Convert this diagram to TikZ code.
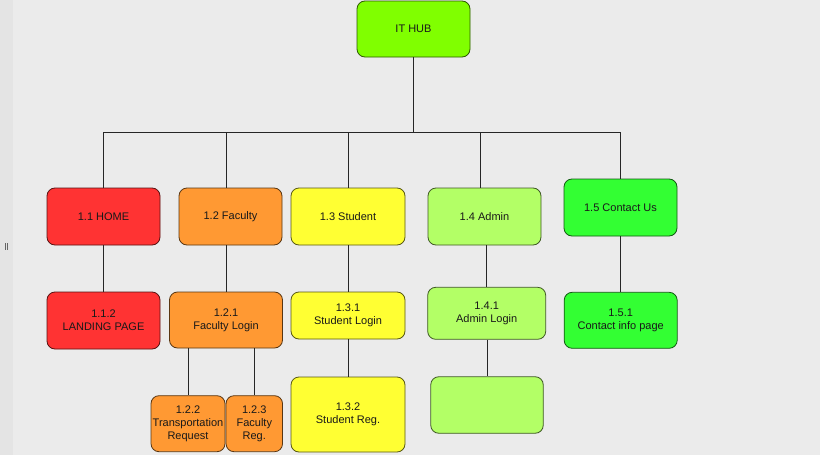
\documentclass[tikz,border=0pt]{standalone}
\usepackage{fontspec}
\setmainfont{Liberation Sans}
\definecolor{bgc}{HTML}{EBEBEB}
\definecolor{stripc}{HTML}{E4E4E4}
\definecolor{hubc}{HTML}{80FF00}
\definecolor{homec}{HTML}{FF3333}
\definecolor{facc}{HTML}{FF9933}
\definecolor{studc}{HTML}{FFFF33}
\definecolor{admc}{HTML}{B3FF66}
\definecolor{contc}{HTML}{33FF33}

\begin{document}
\begin{tikzpicture}[x=1pt,y=-1pt,
    page/.style={draw=#1!35!black,fill=#1,rounded corners=8pt,line width=0.8pt,
                 inner sep=0pt,align=center,text=black!90,
                 font=\fontsize{11}{13}\selectfont},
    link/.style={line width=0.8pt,draw=black!85}]
    \useasboundingbox (0,0) rectangle (820,455);
    \fill [bgc] (0,0) rectangle (820,455);
    \fill [stripc] (0,0) rectangle (13,455);
    \draw [black!60,line width=0.5pt] (5,243) -- (5,250) (7.5,243) -- (7.5,250);

    % top level
    \node [page=hubc,minimum width=113,minimum height=56] (hub) at (413.5,29){IT HUB};
    \coordinate (bus) at (413,132);

    % second row
    \node [page=homec,minimum width=113,minimum height=57] (home) at (103.5,216.5){1.1 HOME};
    \node [page=facc,minimum width=103,minimum height=57] (fac) at (230.5,216.5){1.2 Faculty};
    \node [page=studc,minimum width=114,minimum height=57] (stud) at (348,216.5){1.3 Student};
    \node [page=admc,minimum width=113,minimum height=57] (adm) at (484.5,216.5){1.4 Admin};
    \node [page=contc,minimum width=113,minimum height=57] (cont) at (620.5,207.5){1.5 Contact Us};

    % third row
    \node [page=homec,minimum width=113,minimum height=57] (land) at (103.5,320.5){1.1.2\\LANDING PAGE};
    \node [page=facc,minimum width=113,minimum height=56] (faclog) at (226,320){1.2.1\\Faculty Login};
    \node [page=studc,minimum width=114,minimum height=47] (studlog) at (348,315.5){1.3.1\\Student Login};
    \node [page=admc,minimum width=118,minimum height=52] (admlog) at (486.7,313.3){1.4.1\\Admin Login};
    \node [page=contc,minimum width=113,minimum height=56] (contlog) at (620.7,320.3){1.5.1\\Contact info page};

    % fourth row
    \node [page=facc,minimum width=74,minimum height=56] (transp) at (188,423.7){1.2.2\\Transportation\\Request};
    \node [page=facc,minimum width=56.5,minimum height=56] (facreg) at (254.3,423.7){1.2.3\\Faculty\\Reg.};
    \node [page=studc,minimum width=114,minimum height=75] (studreg) at (348,414.5){1.3.2\\Student Reg.};
    \node [page=admc,minimum width=112.5,minimum height=56.5] (admblank) at (487,405){};

    % connectors
    \draw [link] (hub.south) -- (hub.south |- bus);
    \draw [link] (home.north |- bus) -- (cont.north |- bus);
    \draw [link] (home.north) -- (home.north |- bus);
    \draw [link] (fac.north -| faclog) -- (faclog.north |- bus);
    \draw [link] (stud.north) -- (stud.north |- bus);
    \draw [link] ([xshift=-4.5pt]adm.north) -- ([xshift=-4.5pt]adm.north |- bus);
    \draw [link] (cont.north) -- (cont.north |- bus);

    \draw [link] (home.south) -- (land.north);
    \draw [link] (fac.south -| faclog) -- (faclog.north);
    \draw [link] (stud.south) -- (studlog.north);
    \draw [link] (adm.south -| admlog) -- (admlog.north);
    \draw [link] (cont.south -| contlog) -- (contlog.north);

    \draw [link] (faclog.south -| transp) -- (transp.north);
    \draw [link] (faclog.south -| facreg) -- (facreg.north);
    \draw [link] (studlog.south) -- (studreg.north);
    \draw [link] (admlog.south -| admblank) -- (admblank.north);
  \end{tikzpicture}
\end{document}
